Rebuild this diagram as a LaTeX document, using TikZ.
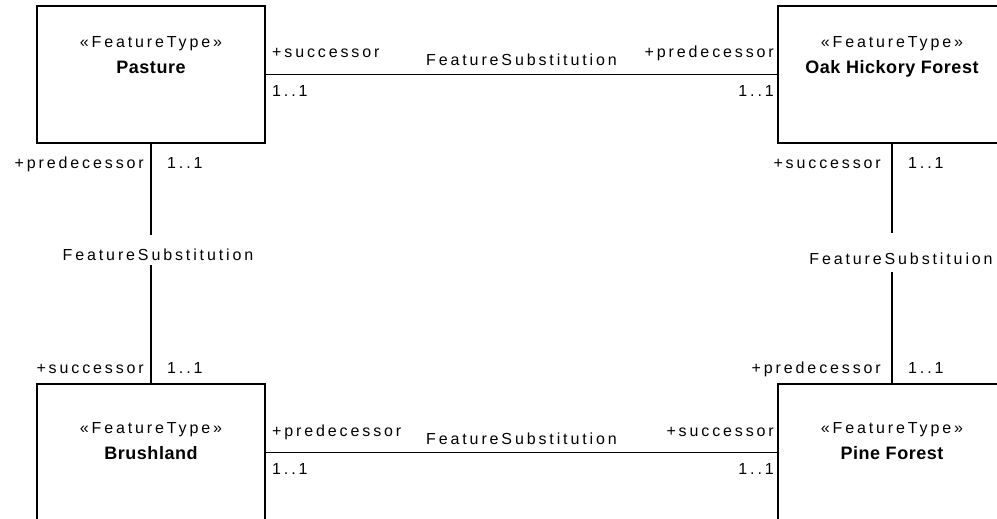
\documentclass[tikz,border=0pt]{standalone}
\usepackage{fontspec}
\setmainfont{Liberation Sans}
\newfontfamily\umlfont[LetterSpace=18]{Liberation Sans}
\newfontfamily\namefont[LetterSpace=3]{Liberation Sans}
\usetikzlibrary{positioning}

\begin{document}
\begin{tikzpicture}[x=1pt,y=1pt,
  ftbox/.style={draw,line width=1.8pt,outer sep=0pt,minimum width=228pt,minimum height=137pt},
  stereo/.style={font=\umlfont\fontsize{16}{19}\selectfont,inner sep=0pt,anchor=base},
  ftname/.style={font=\namefont\bfseries\fontsize{18}{21}\selectfont,inner sep=0pt,anchor=base},
  role/.style={font=\umlfont\fontsize{16}{19}\selectfont,inner sep=0pt},
  assoc/.style={font=\umlfont\fontsize{16}{19}\selectfont,inner sep=0pt,anchor=base},
  link/.style={line width=1.8pt}]
\clip (0,0) rectangle (997,-519);
\node[ftbox] (pasture) at (151,-74.5) {};
\node[ftbox,right=513pt of pasture] (oak) {};
\node[ftbox,below=241pt of pasture] (brush) {};
\node[ftbox,right=513pt of brush] (pine) {};
\foreach \n/\t in {pasture/Pasture,oak/Oak Hickory Forest}{
  \node[stereo] at ([yshift=27]\n.center) {«FeatureType»};
  \node[ftname] at ([yshift=1]\n.center) {\t};
}
\foreach \n/\t in {brush/Brushland,pine/Pine Forest}{
  \node[stereo] at ([yshift=19.5]\n.center) {«FeatureType»};
  \node[ftname] at ([yshift=-6.5]\n.center) {\t};
}
\draw[link] (pasture.east) -- (oak.west)
  node[assoc,midway,yshift=9] {FeatureSubstitution};
\node[role,anchor=base west] at ([shift={(7,17)}]pasture.east) {+successor};
\node[role,anchor=base west] at ([shift={(7,-22)}]pasture.east) {1..1};
\node[role,anchor=base east] at ([shift={(-4,17)}]oak.west) {+predecessor};
\node[role,anchor=base east] at ([shift={(-4,-22)}]oak.west) {1..1};
\draw[link] (brush.east) -- (pine.west)
  node[assoc,midway,yshift=8] {FeatureSubstitution};
\node[role,anchor=base west] at ([shift={(7,16)}]brush.east) {+predecessor};
\node[role,anchor=base west] at ([shift={(7,-22)}]brush.east) {1..1};
\node[role,anchor=base east] at ([shift={(-4,16)}]pine.west) {+successor};
\node[role,anchor=base east] at ([shift={(-4,-22)}]pine.west) {1..1};
\path (pasture.south) -- (brush.north)
  node[assoc,midway,yshift=5.5,xshift=7,anchor=mid] (leftname) {FeatureSubstitution};
\draw[link] (pasture.south) -- (pasture.south |- 0,-235);
\draw[link] (brush.north) -- (brush.north |- 0,-265);
\node[role,anchor=base east] at ([shift={(-7,-25)}]pasture.south) {+predecessor};
\node[role,anchor=base west] at ([shift={(16,-25)}]pasture.south) {1..1};
\node[role,anchor=base east] at ([shift={(-7,11)}]brush.north) {+successor};
\node[role,anchor=base west] at ([shift={(16,11)}]brush.north) {1..1};
\path (oak.south) -- (pine.north)
  node[assoc,midway,yshift=1.5,xshift=9,anchor=mid] (rightname) {FeatureSubstituion};
\draw[link] (oak.south) -- (oak.south |- 0,-233);
\draw[link] (pine.north) -- (pine.north |- 0,-272);
\node[role,anchor=base east] at ([shift={(-11,-25)}]oak.south) {+successor};
\node[role,anchor=base west] at ([shift={(16,-25)}]oak.south) {1..1};
\node[role,anchor=base east] at ([shift={(-11,11)}]pine.north) {+predecessor};
\node[role,anchor=base west] at ([shift={(16,11)}]pine.north) {1..1};
\end{tikzpicture}
\end{document}
